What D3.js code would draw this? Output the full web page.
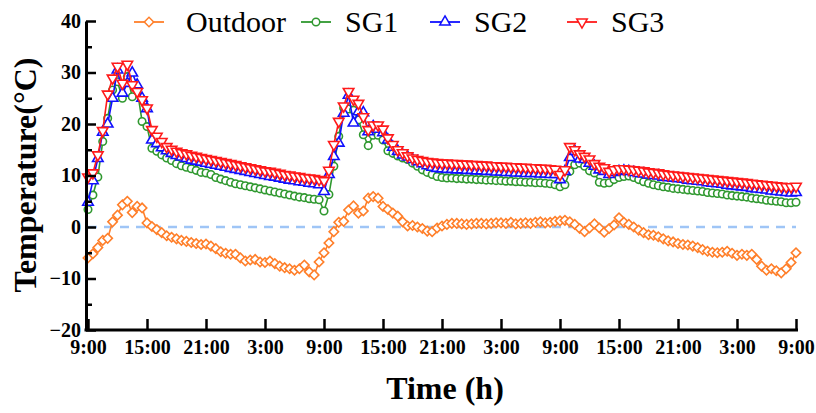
<!DOCTYPE html>
<html>
<head>
<meta charset="utf-8">
<script src="https://cdn.jsdelivr.net/npm/d3@7"></script>
<style>
  body { margin: 0; background: #fff; }
  svg { display: block; }
</style>
</head>
<body>
<svg id="chart" width="816" height="413"></svg>
<script>
// Time axis: 72 hours of half-hourly readings starting at 9:00
const stepHours = 0.5;
const tickHours = [0, 6, 12, 18, 24, 30, 36, 42, 48, 54, 60, 66, 72];
const tickLabels = ["9:00", "15:00", "21:00", "3:00", "9:00", "15:00", "21:00",
                    "3:00", "9:00", "15:00", "21:00", "3:00", "9:00"];
const yMajorTicks = [-20, -10, 0, 10, 20, 30, 40];
const yMinorTicks = [-15, -5, 5, 15, 25, 35];

const seriesNames = ["Outdoor", "SG1", "SG2", "SG3"];

const outdoor = [
  -6.0, -5.2, -4.0, -2.6, -2.2, 1.0, 2.3, 4.3, 5.0, 2.8,
  4.0, 3.7, 0.8, 0.1, -0.5, -1.1, -1.7, -2.0, -2.3, -2.6,
  -2.8, -3.0, -3.2, -3.4, -3.3, -3.7, -4.2, -4.8, -5.1, -5.3,
  -5.3, -6.0, -6.6, -6.4, -6.3, -6.8, -6.9, -6.6, -7.1, -7.6,
  -7.9, -8.1, -8.4, -8.1, -7.4, -8.7, -9.3, -6.8, -5.0, -3.1,
  -0.9, 0.9, 1.1, 3.3, 4.1, 2.7, 3.1, 5.6, 5.9, 5.6,
  4.0, 3.4, 2.7, 2.1, 1.0, 0.2, 0.3, 0.0, -0.3, -0.8,
  -0.9, -0.2, 0.2, 0.5, 0.7, 0.7, 0.6, 0.5, 0.6, 0.7,
  0.7, 0.6, 0.7, 0.8, 0.8, 0.7, 0.9, 0.6, 0.7, 0.8,
  0.7, 0.9, 1.0, 0.8, 0.9, 1.1, 1.2, 1.3, 1.0, 0.5,
  -0.3, -0.9, -0.2, 0.6, -0.2, -1.0, -0.3, 0.4, 1.8, 0.9,
  0.5, 0.0, -0.6, -1.1, -1.5, -1.6, -1.9, -2.3, -2.7, -2.9,
  -3.2, -3.4, -3.5, -3.7, -4.0, -4.4, -4.7, -4.9, -5.0, -4.9,
  -4.7, -5.1, -5.5, -5.3, -5.5, -5.3, -6.3, -7.6, -8.4, -8.1,
  -8.5, -8.9, -8.1, -6.9, -5.0
];

const sg1 = [
  3.4, 6.2, 9.7, 16.6, 21.1, 26.6, 28.2, 25.0, 29.2, 25.3,
  26.7, 20.5, 19.5, 15.3, 14.7, 14.0, 13.4, 12.9, 12.3, 11.9,
  11.6, 11.3, 11.0, 10.6, 10.5, 10.2, 9.6, 9.3, 9.0, 8.7,
  8.4, 8.2, 8.0, 7.8, 7.6, 7.4, 7.2, 7.0, 6.8, 6.6,
  6.4, 6.2, 6.0, 5.8, 5.7, 5.5, 5.4, 5.3, 3.1, 6.3,
  11.8, 17.6, 23.1, 22.9, 22.7, 20.8, 17.9, 15.8, 17.8, 17.8,
  16.9, 14.8, 14.3, 13.8, 13.4, 13.1, 12.4, 11.8, 11.1, 10.6,
  10.2, 9.8, 9.6, 9.5, 9.5, 9.4, 9.4, 9.3, 9.3, 9.2,
  9.2, 9.1, 9.1, 9.0, 9.0, 8.9, 8.9, 8.8, 8.8, 8.7,
  8.7, 8.6, 8.6, 8.5, 8.4, 8.2, 7.8, 8.2, 10.8, 12.1,
  12.4, 11.8, 10.9, 10.5, 8.7, 8.5, 8.6, 9.2, 9.6, 9.8,
  9.9, 9.6, 9.2, 8.8, 8.5, 8.2, 8.0, 7.8, 7.7, 7.5,
  7.4, 7.3, 7.2, 7.1, 7.0, 6.9, 6.7, 6.6, 6.5, 6.4,
  6.2, 6.1, 6.0, 5.9, 5.8, 5.6, 5.5, 5.4, 5.2, 5.1,
  5.0, 4.9, 4.7, 4.7, 4.8
];

const sg2 = [
  4.8, 9.0, 13.3, 18.4, 20.0, 25.0, 30.5, 26.0, 27.9, 29.9,
  27.6, 25.0, 23.0, 16.9, 16.2, 15.4, 14.8, 14.3, 13.9, 13.6,
  13.3, 13.0, 12.8, 12.6, 12.4, 12.2, 12.0, 11.8, 11.6, 11.4,
  11.2, 11.0, 10.8, 10.6, 10.4, 10.2, 10.0, 9.8, 9.7, 9.5,
  9.3, 9.1, 9.0, 8.8, 8.7, 8.5, 8.4, 8.2, 6.9, 10.2,
  13.7, 16.3, 22.1, 25.6, 20.2, 22.4, 22.2, 18.5, 19.5, 19.0,
  18.3, 16.9, 15.5, 14.7, 14.0, 13.6, 13.1, 12.7, 12.3, 11.9,
  11.6, 11.4, 11.3, 11.2, 11.2, 11.1, 11.1, 11.0, 11.0, 10.9,
  10.9, 10.8, 10.8, 10.7, 10.7, 10.6, 10.6, 10.5, 10.5, 10.4,
  10.4, 10.4, 10.3, 10.3, 10.2, 10.2, 9.2, 10.8, 13.5, 14.7,
  13.2, 13.1, 12.4, 11.8, 11.1, 10.8, 10.2, 10.6, 10.8, 10.9,
  10.8, 10.6, 10.4, 10.3, 10.1, 10.0, 9.9, 9.7, 9.6, 9.5,
  9.4, 9.3, 9.1, 9.0, 8.9, 8.8, 8.6, 8.5, 8.4, 8.3,
  8.1, 8.0, 7.9, 7.8, 7.7, 7.5, 7.4, 7.3, 7.2, 7.0,
  6.9, 6.8, 6.7, 6.6, 6.7
];

const sg3 = [
  9.7, 10.5, 14.0, 18.7, 25.8, 28.9, 31.2, 27.9, 31.6, 27.6,
  26.3, 24.7, 23.1, 18.9, 17.6, 16.6, 15.6, 15.1, 14.7, 14.4,
  14.2, 13.9, 13.7, 13.5, 13.3, 13.1, 12.9, 12.7, 12.5, 12.3,
  12.1, 11.9, 11.7, 11.5, 11.3, 11.1, 10.9, 10.8, 10.6, 10.4,
  10.2, 10.1, 9.9, 9.8, 9.6, 9.5, 9.4, 9.2, 9.0, 11.0,
  16.0, 20.5, 23.5, 26.3, 24.8, 24.0, 21.4, 18.9, 19.8, 19.8,
  19.0, 17.3, 16.0, 15.0, 14.4, 13.8, 13.4, 13.1, 12.9, 12.7,
  12.6, 12.5, 12.4, 12.4, 12.3, 12.3, 12.2, 12.2, 12.1, 12.1,
  12.0, 12.0, 11.9, 11.9, 11.8, 11.8, 11.7, 11.7, 11.6, 11.6,
  11.5, 11.5, 11.4, 11.4, 11.3, 11.2, 10.2, 11.1, 15.6, 15.0,
  14.2, 13.7, 13.2, 12.3, 11.8, 11.5, 10.8, 11.1, 11.3, 11.3,
  11.2, 11.1, 11.0, 10.9, 10.7, 10.6, 10.5, 10.3, 10.2, 10.1,
  10.0, 9.9, 9.8, 9.7, 9.6, 9.5, 9.4, 9.3, 9.2, 9.1,
  9.0, 8.9, 8.8, 8.7, 8.6, 8.5, 8.4, 8.3, 8.2, 8.1,
  8.0, 7.9, 7.8, 7.8, 7.9
];

// Series styling
const seriesValues = [outdoor, sg1, sg2, sg3];
const seriesColors = ["#ff7f2a", "#2f982f", "#1010ff", "#ff1a1a"];
const seriesSymbols = [
  { type: d3.symbolSquare, size: 44, rotate: 45 },
  { type: d3.symbolCircle, size: 44, rotate: 0 },
  { type: d3.symbolTriangle, size: 48, rotate: 0 },
  { type: d3.symbolTriangle, size: 48, rotate: 180 }
];

const serif = "'Liberation Serif', 'Times New Roman', Times, serif";
const svg = d3.select("#chart");

const x = d3.scaleLinear().domain([0, 72]).range([88, 796]);
const y = d3.scaleLinear().domain([-20, 40]).range([330, 21]);
const axisX = 86;

// Zero reference line
svg.append("line")
  .attr("x1", x(0)).attr("x2", x(72))
  .attr("y1", y(0)).attr("y2", y(0))
  .attr("stroke", "#9fc5f6")
  .attr("stroke-width", 2.5)
  .attr("stroke-dasharray", "9,7");

// Series lines and markers
const line = d3.line()
  .x((d, i) => x(i * stepHours))
  .y(d => y(d));

seriesValues.forEach((vals, k) => {
  const g = svg.append("g").attr("class", "series-" + seriesNames[k]);
  g.append("path")
    .datum(vals)
    .attr("d", line)
    .attr("fill", "none")
    .attr("stroke", seriesColors[k])
    .attr("stroke-width", 1.6);
  const sym = d3.symbol().type(seriesSymbols[k].type).size(seriesSymbols[k].size);
  g.selectAll("path.pt")
    .data(vals)
    .join("path")
    .attr("class", "pt")
    .attr("d", sym)
    .attr("transform", (d, i) => `translate(${x(i * stepHours)},${y(d)}) rotate(${seriesSymbols[k].rotate})`)
    .attr("fill", "#fff")
    .attr("stroke", seriesColors[k])
    .attr("stroke-width", 1.6);
});

// Y axis with inward ticks
const yAxis = d3.axisLeft(y)
  .tickValues(yMajorTicks)
  .tickSizeInner(-10)
  .tickSizeOuter(0)
  .tickPadding(5);
const gy = svg.append("g").attr("transform", `translate(${axisX},0)`).call(yAxis);
gy.select(".domain").attr("stroke", "#000").attr("stroke-width", 3);
gy.selectAll(".tick line").attr("stroke", "#000").attr("stroke-width", 2.5);
gy.selectAll(".tick text")
  .attr("font-family", serif).attr("font-weight", "bold").attr("font-size", 20).attr("fill", "#000");

const yMinor = d3.axisLeft(y)
  .tickValues(yMinorTicks)
  .tickSizeInner(-6)
  .tickSizeOuter(0)
  .tickFormat("");
const gym = svg.append("g").attr("transform", `translate(${axisX},0)`).call(yMinor);
gym.select(".domain").remove();
gym.selectAll(".tick line").attr("stroke", "#000").attr("stroke-width", 2.5);

// X axis with inward ticks
const xAxis = d3.axisBottom(x)
  .tickValues(tickHours)
  .tickFormat((d, i) => tickLabels[i])
  .tickSizeInner(-11)
  .tickSizeOuter(0)
  .tickPadding(10);
const gx = svg.append("g").attr("transform", `translate(0,${y(-20)})`).call(xAxis);
gx.select(".domain").remove();
gx.append("line")
  .attr("x1", axisX - 1.5).attr("x2", x(72) + 2)
  .attr("y1", 0).attr("y2", 0)
  .attr("stroke", "#000").attr("stroke-width", 3);
gx.selectAll(".tick line").attr("stroke", "#000").attr("stroke-width", 2.5);
gx.selectAll(".tick text")
  .attr("font-family", serif).attr("font-weight", "bold").attr("font-size", 20).attr("fill", "#000");

// Axis titles
svg.append("text")
  .attr("transform", "translate(36,175) rotate(-90)")
  .attr("text-anchor", "middle")
  .attr("font-family", serif).attr("font-weight", "bold").attr("font-size", 32)
  .text("Temperature(°C)");

svg.append("text")
  .attr("x", 445).attr("y", 399)
  .attr("text-anchor", "middle")
  .attr("font-family", serif).attr("font-weight", "bold").attr("font-size", 32)
  .text("Time (h)");

// Legend
const legendX = [134, 301, 430, 567];
const legendY = 22;
seriesNames.forEach((name, k) => {
  const g = svg.append("g").attr("transform", `translate(${legendX[k]},${legendY})`);
  g.append("line").attr("x1", 0).attr("x2", 30).attr("y1", 0).attr("y2", 0)
    .attr("stroke", seriesColors[k]).attr("stroke-width", 1.8);
  g.append("path")
    .attr("d", d3.symbol().type(seriesSymbols[k].type).size(seriesSymbols[k].size)())
    .attr("transform", `translate(15,0) rotate(${seriesSymbols[k].rotate})`)
    .attr("fill", "#fff").attr("stroke", seriesColors[k]).attr("stroke-width", 1.5);
  g.append("text")
    .attr("x", k === 0 ? 52 : 44).attr("y", 10)
    .attr("font-family", serif).attr("font-size", 30).attr("fill", "#000")
    .text(name);
});
</script>
</body>
</html>
